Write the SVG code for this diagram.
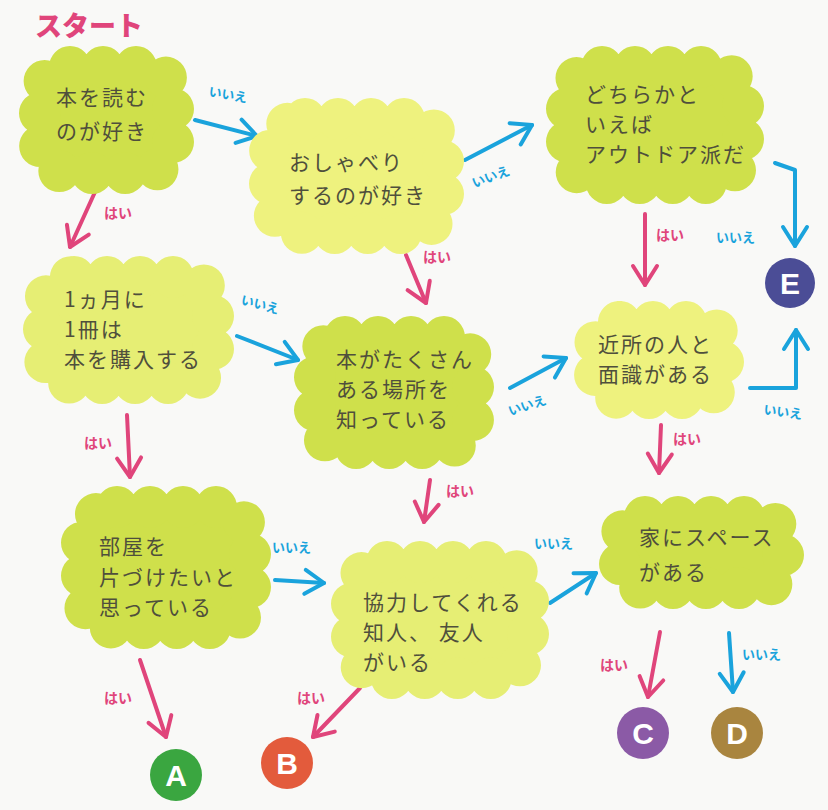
<svg xmlns="http://www.w3.org/2000/svg" width="828" height="810" viewBox="0 0 828 810">
<defs>
<style>
.blob{stroke-width:42;stroke-dasharray:0 33;stroke-linecap:round;stroke-linejoin:round}
.lime{fill:#cfe04b;stroke:#cfe04b}
.pale{fill:#e6ee74;stroke:#e6ee74}
.yel{fill:#eef27e;stroke:#eef27e}
.nt{font-family:"Noto Sans CJK JP","Noto Sans",sans-serif;font-size:21px;letter-spacing:2px;fill:#4f4f3c}
.yes{font-family:"Noto Sans CJK JP",sans-serif;font-size:14px;font-weight:700;fill:#e0457b}
.no{font-family:"Noto Sans CJK JP",sans-serif;font-size:13px;font-weight:700;fill:#1aa3dc}
.pk{stroke:#e0457b;stroke-width:4;fill:none;stroke-linecap:round;stroke-linejoin:round;marker-end:url(#hp)}
.bl{stroke:#1aa3dc;stroke-width:4;fill:none;stroke-linecap:round;stroke-linejoin:round;marker-end:url(#hb)}
.res{font-family:"Liberation Sans",Arial,sans-serif;font-size:30px;font-weight:700;fill:#fff;text-anchor:middle}
</style>
<marker id="hp" viewBox="0 0 30 30" markerWidth="30" markerHeight="30" refX="24" refY="15" orient="auto" markerUnits="userSpaceOnUse">
<path d="M5,3 L24,15 L5,27" fill="none" stroke="#e0457b" stroke-width="4" stroke-linecap="round" stroke-linejoin="round"/>
</marker>
<marker id="hb" viewBox="0 0 30 30" markerWidth="30" markerHeight="30" refX="24" refY="15" orient="auto" markerUnits="userSpaceOnUse">
<path d="M5,3 L24,15 L5,27" fill="none" stroke="#1aa3dc" stroke-width="4" stroke-linecap="round" stroke-linejoin="round"/>
</marker>
</defs>
<rect width="828" height="810" fill="#f9f9f7"/>
<text x="35" y="36" font-family="'Noto Sans CJK JP',sans-serif" font-size="27" font-weight="900" fill="#e0457b">スタート</text>

<g id="connectors">
<line class="pk" x1="95" y1="192" x2="70" y2="247"/>
<text class="yes" x="104" y="218">はい</text>
<line class="bl" x1="195" y1="120" x2="257" y2="136"/>
<text class="no" x="208" y="96" transform="rotate(10 208 96)">いいえ</text>
<line class="pk" x1="406" y1="255" x2="426" y2="303"/>
<text class="yes" x="423" y="262">はい</text>
<line class="bl" x1="465" y1="160" x2="532" y2="125"/>
<text class="no" x="474" y="188" transform="rotate(-20 474 188)">いいえ</text>
<line class="pk" x1="645" y1="214" x2="645" y2="285"/>
<text class="yes" x="656" y="240">はい</text>
<polyline class="bl" points="775,163 795,170 795,246"/>
<text class="no" x="716" y="242">いいえ</text>
<line class="pk" x1="127" y1="415" x2="130" y2="477"/>
<text class="yes" x="84" y="448">はい</text>
<line class="bl" x1="237" y1="336" x2="298" y2="360"/>
<text class="no" x="240" y="304" transform="rotate(15 240 304)">いいえ</text>
<line class="pk" x1="430" y1="480" x2="424" y2="522"/>
<text class="yes" x="446" y="496">はい</text>
<line class="bl" x1="510" y1="388" x2="566" y2="358"/>
<text class="no" x="510" y="416" transform="rotate(-18 510 416)">いいえ</text>
<polyline class="bl" points="750,388 796,388 796,330"/>
<text class="no" x="763" y="414" transform="rotate(8 763 414)">いいえ</text>
<line class="pk" x1="661" y1="425" x2="659" y2="473"/>
<text class="yes" x="673" y="444">はい</text>
<line class="pk" x1="140" y1="660" x2="166" y2="737"/>
<text class="yes" x="104" y="703">はい</text>
<line class="bl" x1="275" y1="580" x2="324" y2="583"/>
<text class="no" x="272" y="552">いいえ</text>
<line class="pk" x1="360" y1="688" x2="313" y2="737"/>
<text class="yes" x="297" y="703">はい</text>
<line class="bl" x1="550" y1="603" x2="596" y2="573"/>
<text class="no" x="534" y="548">いいえ</text>
<line class="pk" x1="660" y1="632" x2="648" y2="697"/>
<text class="yes" x="600" y="670">はい</text>
<line class="bl" x1="729" y1="633" x2="733" y2="692"/>
<text class="no" x="742" y="659">いいえ</text>
</g>

<g id="n1"><rect class="blob lime" x="40" y="67" width="133" height="106" rx="30"/>
<text class="nt" x="56" y="105">本を読む</text><text class="nt" x="56" y="139">のが好き</text></g>
<g id="n2"><rect class="blob yel" x="270" y="119" width="173" height="114" rx="35"/>
<text class="nt" x="289" y="170">おしゃべり</text><text class="nt" x="289" y="203">するのが好き</text></g>
<g id="n3"><rect class="blob lime" x="567" y="67" width="176" height="116" rx="35"/>
<text class="nt" x="585" y="102">どちらかと</text><text class="nt" x="585" y="132">いえば</text><text class="nt" x="585" y="162">アウトドア派だ</text></g>
<g id="n4"><rect class="blob pale" x="44" y="277" width="169" height="106" rx="30"/>
<text class="nt" x="64" y="307">1ヵ月に</text><text class="nt" x="64" y="337">1冊は</text><text class="nt" x="64" y="367">本を購入する</text></g>
<g id="n5"><rect class="blob lime" x="315" y="337" width="158" height="111" rx="30"/>
<text class="nt" x="336" y="367">本がたくさん</text><text class="nt" x="336" y="397">ある場所を</text><text class="nt" x="336" y="427">知っている</text></g>
<g id="n6"><rect class="blob yel" x="595" y="322" width="128" height="76" rx="25"/>
<text class="nt" x="598" y="352">近所の人と</text><text class="nt" x="598" y="382">面識がある</text></g>
<g id="n7"><rect class="blob lime" x="82" y="507" width="168" height="121" rx="35"/>
<text class="nt" x="99" y="554">部屋を</text><text class="nt" x="99" y="585">片づけたいと</text><text class="nt" x="99" y="615">思っている</text></g>
<g id="n8"><rect class="blob pale" x="352" y="562" width="176" height="116" rx="35"/>
<text class="nt" x="363" y="610">協力してくれる</text><text class="nt" x="363" y="640">知人、 友人</text><text class="nt" x="363" y="670">がいる</text></g>
<g id="n9"><rect class="blob lime" x="620" y="517" width="163" height="71" rx="25"/>
<text class="nt" x="639" y="545">家にスペース</text><text class="nt" x="639" y="580">がある</text></g>

<g id="rA"><circle cx="176" cy="775" r="26" fill="#3aa640"/><text class="res" x="176" y="786">A</text></g>
<g id="rB"><circle cx="287" cy="763" r="26" fill="#e35b3c"/><text class="res" x="287" y="774">B</text></g>
<g id="rC"><circle cx="643" cy="733" r="26" fill="#8b5aa6"/><text class="res" x="643" y="744">C</text></g>
<g id="rD"><circle cx="737" cy="733" r="26" fill="#a9853f"/><text class="res" x="737" y="744">D</text></g>
<g id="rE"><circle cx="790" cy="283" r="25" fill="#4b4d96"/><text class="res" x="790" y="294">E</text></g>
</svg>
